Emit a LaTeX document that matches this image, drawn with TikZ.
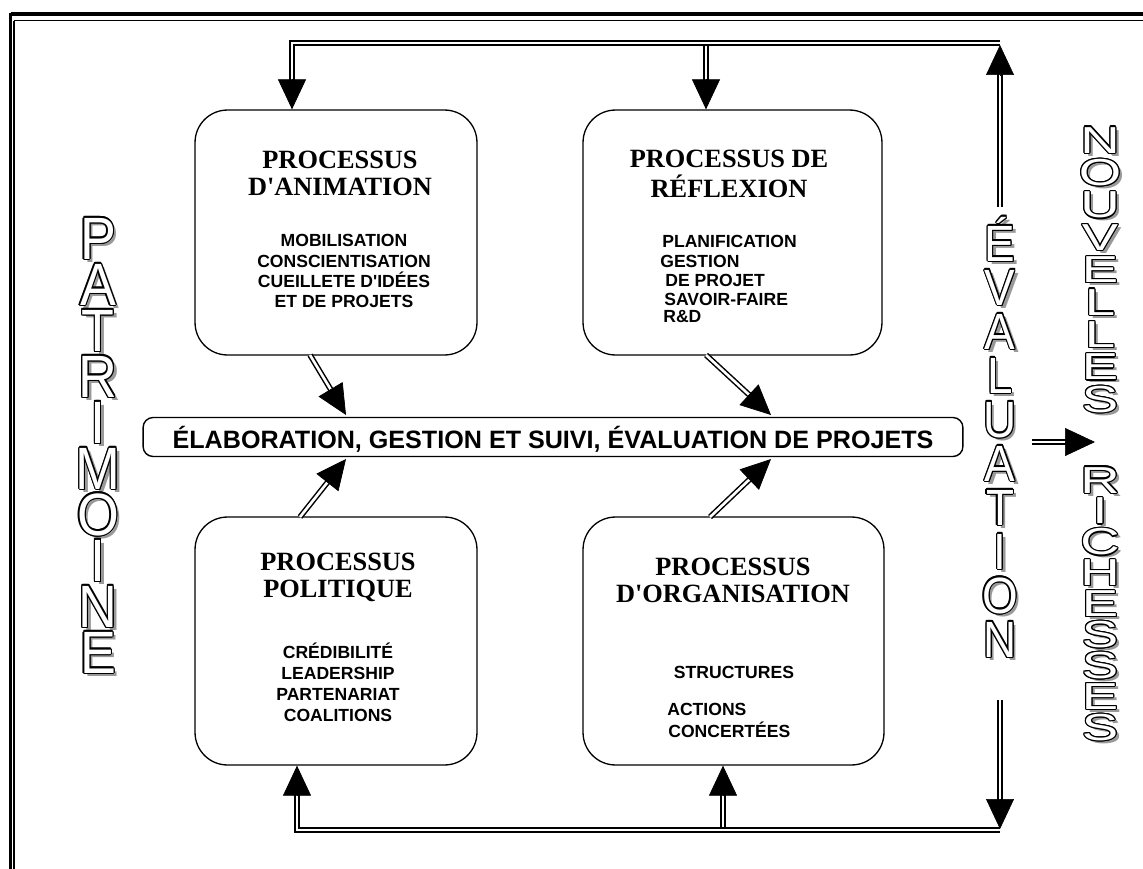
\documentclass[tikz,border=0pt]{standalone}
\usepackage{fontspec}
\usepackage{graphicx}
\setmainfont{Liberation Serif}
\setsansfont{Liberation Sans}
\newfontfamily\glyphfont{Liberation Sans}
\usetikzlibrary{arrows.meta,calc}

% fonts of the big hollow side words
\newcommand\patfont{\glyphfont\fontsize{34}{36}\selectfont}
\newcommand\evalfont{\glyphfont\fontsize{29}{31}\selectfont}
\newcommand\richfont{\glyphfont\fontsize{21.4}{23}\selectfont}

\tikzset{
  dbl/.style={draw=black, line width=0.85pt, double=white, double distance=1.5pt},
  headtip/.style={draw=black, line width=0.4pt, -{Triangle[length=0.6cm,width=0.56cm]}},
  procbox/.style={draw=black, line width=0.75pt, rounded corners=0.65cm, fill=white, inner sep=0},
  barbox/.style={draw=black, line width=0.8pt, rounded corners=0.2cm, fill=white, inner sep=0},
  ttl/.style={font=\bfseries\fontsize{15}{15}\selectfont, inner sep=0, anchor=base},
  itm/.style={font=\sffamily\bfseries\fontsize{10}{10}\selectfont, inner sep=0, anchor=base},
  itml/.style={itm, anchor=base west},
  bartxt/.style={font=\sffamily\bfseries\fontsize{14.3}{15}\selectfont, inner sep=0, anchor=base},
  glyph/.style={inner sep=0, anchor=base},
}

% double shaft from #1 with a solid triangular head ending on #2
\newcommand\dblhead[2]{%
  \draw[dbl, shorten >=0.56cm] (#1) -- (#2);
  \draw[headtip] ($(#2)!0.6cm!(#1)$) -- (#2);}

% hollow letter with a grey drop shadow: #1 x, #2 baseline, #3 x-scale, #4 letter
\newcommand\hollowglyph[4]{%
  \node[glyph, text=black!40] at (#1+3.5,#2+3) {\scalebox{#3}[1]{#4}};
  \foreach \ang in {0,30,...,330}
    \node[glyph, text=black] at ([shift={(\ang:1.2)}] #1,#2) {\scalebox{#3}[1]{#4}};
  \node[glyph, text=white] at (#1,#2) {\scalebox{#3}[1]{#4}};}

\begin{document}
\begin{tikzpicture}[x=0.02cm, y=-0.02cm]
\useasboundingbox[fill=white] (0,0) rectangle (1143,869);

% outer frame (top and left rules)
\draw[line width=2pt] (10.5,14) -- (1143,14);
\draw[line width=1.1pt] (14,20.5) -- (1143,20.5);
\draw[line width=1.3pt] (10.5,13) -- (10.5,869);
\draw[line width=0.8pt] (14,20.5) -- (14,869);

% the four processes and the central bar
\node[procbox, minimum width=5.64cm, minimum height=4.9cm] (b1) at (336,232.5) {};
\node[procbox, minimum width=5.98cm, minimum height=4.9cm] (b2) at (732.5,232.5) {};
\node[procbox, minimum width=5.64cm, minimum height=4.96cm] (b3) at (336,641) {};
\node[procbox, minimum width=6.02cm, minimum height=4.96cm] (b4) at (733.5,641) {};
\node[barbox, minimum width=16.4cm, minimum height=0.78cm] (bar) at (553,437) {};
\node[bartxt] (bartext) at (553,448) {ÉLABORATION, GESTION ET SUIVI, ÉVALUATION DE PROJETS};

% box texts
\node[ttl] (t1a) at (340,168) {PROCESSUS};
\node[ttl] (t1b) at (340,195) {D\textquotesingle ANIMATION};
\node[itm] (i1a) at (344,246) {MOBILISATION};
\node[itm] (i1b) at (344,267) {CONSCIENTISATION};
\node[itm] (i1c) at (344,287) {CUEILLETE D\textquotesingle IDÉES};
\node[itm] (i1d) at (344,307) {ET DE PROJETS};

\node[ttl] (t2a) at (729,167) {PROCESSUS DE};
\node[ttl] (t2b) at (729,197) {RÉFLEXION};
\node[itml] (i2a) at (662,247) {PLANIFICATION};
\node[itml] (i2b) at (660,267) {GESTION};
\node[itml] (i2c) at (665,286) {DE PROJET};
\node[itml] (i2d) at (664,305) {SAVOIR-FAIRE};
\node[itml] (i2e) at (663,322) {R\&D};

\node[ttl] (t3a) at (338,570) {PROCESSUS};
\node[ttl] (t3b) at (338,597) {POLITIQUE};
\node[itm] (i3a) at (338,658) {CRÉDIBILITÉ};
\node[itm] (i3b) at (338,679) {LEADERSHIP};
\node[itm] (i3c) at (338,700) {PARTENARIAT};
\node[itm] (i3d) at (338,721) {COALITIONS};

\node[ttl] (t4a) at (733,575) {PROCESSUS};
\node[ttl] (t4b) at (733,602) {D\textquotesingle ORGANISATION};
\node[itm] (i4a) at (734,678) {STRUCTURES};
\node[itml] (i4b) at (667,715) {ACTIONS};
\node[itml] (i4c) at (668,737) {CONCERTÉES};

% loop coordinates
\coordinate (lt) at (292,43);
\coordinate (mt) at (706,46);
\coordinate (rt) at (1000,43);
\coordinate (lb) at (297,830);
\coordinate (mb) at (723,827);
\coordinate (rb) at (1000,830);
\coordinate (h1) at (b1.north -| lt);
\coordinate (h2) at (b2.north -| mt);
\coordinate (h3) at (b3.south -| lb);
\coordinate (h4) at (b4.south -| mb);

% top loop feeding the upper processes
\draw[dbl, shorten >=0.56cm] (rt) -- (lt) -- (h1);
\draw[headtip] ($(h1)!0.6cm!(lt)$) -- (h1);
\dblhead{mt}{h2}

% bottom loop feeding the lower processes
\draw[dbl, shorten >=0.56cm] (rb) -- (lb) -- (h3);
\draw[headtip] ($(h3)!0.6cm!(lb)$) -- (h3);
\dblhead{mb}{h4}

% evaluation line, split around its lettering
\coordinate (vt) at (1000,207);
\coordinate (vb) at (1000,700);
\coordinate (et) at (1000,45);
\coordinate (eb) at (1000,829);
\dblhead{vt}{et}
\dblhead{vb}{eb}

% diagonal arrows into the central bar
\coordinate (d1s) at (310,355);  \coordinate (d1e) at (346,415);
\coordinate (d2s) at (706,355);  \coordinate (d2e) at (771,415);
\coordinate (d3s) at (300,517);  \coordinate (d3e) at (346,459);
\coordinate (d4s) at (710,517);  \coordinate (d4e) at (771,459);
\dblhead{d1s}{d1e}
\dblhead{d2s}{d2e}
\dblhead{d3s}{d3e}
\dblhead{d4s}{d4e}

% arrow towards the new wealth
\coordinate (ns) at (1032,442);
\coordinate (ne) at (1095,442);
\dblhead{ns}{ne}

% hollow vertical words
\foreach \l [count=\i from 0] in {P,A,T,R,I,M,O,I,N,E} {
  \pgfmathsetmacro\yy{259+46*\i}
  \hollowglyph{98}{\yy}{0.9}{\patfont\l}
}
\foreach \l [count=\i from 0] in {É,V,A,L,U,A,T,I,O,N} {
  \pgfmathsetmacro\yy{261+44*\i}
  \hollowglyph{1000}{\yy}{0.9}{\evalfont\l}
}
\foreach \l [count=\i from 0] in {N,O,U,V,E,L,L,E,S} {
  \pgfmathsetmacro\yy{153+32.4*\i}
  \hollowglyph{1100}{\yy}{1.45}{\richfont\l}
}
\foreach \l [count=\i from 0] in {R,I,C,H,E,S,S,E,S} {
  \pgfmathsetmacro\yy{493+30.9*\i}
  \hollowglyph{1100}{\yy}{1.45}{\richfont\l}
}
\end{tikzpicture}
\end{document}
